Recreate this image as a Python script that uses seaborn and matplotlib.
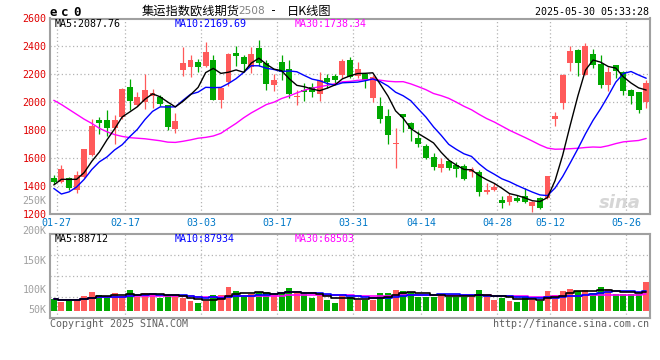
import numpy as np
import pandas as pd
import matplotlib
matplotlib.use("Agg")
import matplotlib.pyplot as plt
import seaborn as sns

# ---------------- data ----------------
opens = [1462, 1433, 1460, 1371, 1465, 1625, 1872, 1872, 1818, 1897,
         2113, 1983, 2000, 2045, 2038, 1978, 1811, 2235, 2253, 2290,
         2262, 2302, 2018, 2149, 2350, 2326, 2252, 2390, 2283, 2121,
         2288, 2240, 2040, 2090, 2109, 2059, 2178, 2190, 2197, 2305,
         2190, 2202, 2035, 1977, 1906, 1700, 1918, 1856, 1744, 1689,
         1607, 1529, 1581, 1553, 1548, 1500, 1505, 1357, 1376, 1302,
         1290, 1319, 1328, 1261, 1314, 1319, 1880, 1994, 2285, 2376,
         2197, 2347, 2276, 2121, 2264, 2216, 2090, 2073, 2001]
highs = [1479, 1553, 1465, 1510, 1670, 1882, 1896, 1944, 1912, 2100,
         2167, 2078, 2203, 2097, 2055, 1985, 1925, 2393, 2336, 2310,
         2429, 2336, 2110, 2352, 2405, 2340, 2398, 2448, 2305, 2202,
         2340, 2305, 2090, 2142, 2137, 2221, 2204, 2204, 2309, 2328,
         2288, 2212, 2197, 2042, 1954, 1820, 1920, 1858, 1799, 1703,
         1641, 1600, 1590, 1577, 1560, 1541, 1517, 1424, 1421, 1331,
         1350, 1338, 1386, 1295, 1326, 1476, 1935, 2200, 2400, 2381,
         2424, 2383, 2336, 2252, 2268, 2226, 2097, 2078, 2161]
lows = [1419, 1425, 1375, 1350, 1460, 1620, 1772, 1760, 1703, 1880,
        1947, 1975, 1955, 1960, 1975, 1803, 1782, 2192, 2185, 2214,
        2255, 2015, 1963, 2114, 2257, 2221, 2209, 2257, 2090, 2083,
        2161, 2035, 1982, 2011, 2042, 2011, 2102, 2137, 2173, 2173,
        2173, 2106, 2001, 1851, 1703, 1534, 1787, 1727, 1684, 1596,
        1517, 1505, 1520, 1469, 1445, 1469, 1333, 1345, 1367, 1247,
        1266, 1285, 1278, 1218, 1238, 1308, 1834, 1954, 2226, 2190,
        2195, 2245, 2102, 2085, 2173, 2054, 1987, 1923, 1963]
closes = [1433, 1523, 1385, 1484, 1667, 1834, 1856, 1820, 1873, 2097,
          2013, 2042, 2088, 2068, 1988, 1827, 1868, 2285, 2305, 2252,
          2357, 2018, 2106, 2347, 2333, 2273, 2347, 2281, 2130, 2159,
          2216, 2059, 2047, 2078, 2078, 2157, 2149, 2161, 2297, 2185,
          2240, 2157, 2180, 1882, 1767, 1712, 1894, 1810, 1701, 1605,
          1541, 1560, 1529, 1524, 1452, 1522, 1362, 1376, 1393, 1278,
          1331, 1297, 1290, 1290, 1247, 1474, 1903, 2197, 2369, 2285,
          2400, 2264, 2121, 2214, 2228, 2083, 2049, 1946, 2137]
volumes_k = [53, 42, 53, 54, 68, 86, 72, 60, 81, 69,
             95, 62, 81, 77, 59, 72, 66, 59, 45, 36,
             45, 72, 72, 108, 90, 68, 77, 86, 86, 72,
             81, 105, 81, 76, 60, 72, 50, 35, 72, 65,
             50, 50, 50, 80, 80, 95, 90, 86, 65, 65,
             65, 72, 65, 65, 65, 65, 95, 72, 50, 60,
             45, 42, 62, 50, 47, 90, 72, 90, 99, 90,
             95, 80, 107, 98, 76, 76, 76, 76, 130]
# moving-average values visible before enough candles exist
ma5_head = [1410, 1450, 1450, 1450]
ma10_head = [1385, 1345, 1360, 1395, 1450, 1520, 1575, 1610, 1660]
ma30_head = [2015, 1985, 1950, 1915, 1880, 1850, 1815, 1790, 1770, 1757,
             1748, 1744, 1740, 1733, 1726, 1716, 1714, 1722, 1732, 1744,
             1750, 1760, 1779, 1815, 1850, 1890, 1925, 1955, 1985]
tick_idx = [0, 9, 19, 29, 39, 48, 58, 65, 75]
tick_labels = ["01-27", "02-17", "03-03", "03-17", "03-31",
               "04-14", "04-28", "05-12", "05-26"]
price_ticks = [1200, 1400, 1600, 1800, 2000, 2200, 2400, 2600]
vol_labels = ["250K", "200K", "150K", "100K", "50K"]

title_main = "集运指数欧线期货"
title_code = "2508"
title_tail = "日K线图"
stamp = "2025-05-30 05:33:28"
ma_texts = ["MA5:2087.76", "MA10:2169.69", "MA30:1738.34"]
vma_texts = ["MA5:88712", "MA10:87934", "MA30:68503"]

# ---------------- styling ----------------
sns.set_style("white")
plt.rcParams["font.family"] = ["DejaVu Sans Mono", "DejaVu Sans"]
RED = "#ff5a5a"
GREEN = "#00a800"
GRID = "#b4b4b4"
SPINE = "#a0a0a0"
MONO = 7.2

W, H = 660, 360
fig = plt.figure(figsize=(6.6, 3.6), dpi=100)
fig.patch.set_facecolor("white")


def fx(x):
    return x / W


def fy(y):
    return 1 - y / H


ax = fig.add_axes([fx(50), fy(214.3), 600 / W, (214.3 - 18.5) / H])
axv = fig.add_axes([fx(50), fy(317.5), 600 / W, (317.5 - 234.3) / H])

df = pd.DataFrame({"o": opens, "h": highs, "l": lows, "c": closes,
                   "v": volumes_k})
df["i"] = np.arange(len(df))
df["dir"] = np.where(df["c"] >= df["o"], "up", "down")
pal = {"up": RED, "down": GREEN}
cols = df["dir"].map(pal).values

ma5 = df["c"].rolling(5).mean().values
ma5[:len(ma5_head)] = ma5_head
ma10 = df["c"].rolling(10).mean().values
ma10[:len(ma10_head)] = ma10_head
ma30 = df["c"].rolling(30).mean().values
ma30[:len(ma30_head)] = ma30_head

XL = (-0.5, len(df) - 0.5)
GOFF = 0.38  # grid lines sit at the right edge of the labelled candle

# ---------------- price panel ----------------
for v in price_ticks[1:-1]:
    ax.axhline(v, color=GRID, lw=0.9, ls=(0, (1, 2)), zorder=0)
for k in tick_idx:
    ax.axvline(k + GOFF, color=GRID, lw=0.9, ls=(0, (1, 2)), zorder=0)

ax.vlines(df["i"], df["l"], df["h"], colors=cols, lw=0.9, zorder=2)
body_lo = np.minimum(df["o"], df["c"])
body_h = np.maximum((df["c"] - df["o"]).abs(), 8)
ax.bar(df["i"], body_h, bottom=body_lo, width=0.78, color=cols,
       linewidth=0, zorder=3)

for vals, c in [(ma30, "#ff00ff"), (ma10, "#0000ff"), (ma5, "#000000")]:
    sns.lineplot(x=df["i"], y=vals, ax=ax, color=c, lw=1.0, zorder=4,
                 legend=False)

ax.set_xlim(*XL)
ax.set_ylim(1200, 2600)
ax.set_yticks(price_ticks)
ax.set_yticklabels([str(t) for t in price_ticks], color="#e00000",
                   fontsize=MONO)
ax.set_xticks([k + GOFF for k in tick_idx])
ax.set_xticklabels(tick_labels, color="#0078c8", fontsize=MONO)
ax.tick_params(axis="both", length=0)
ax.tick_params(axis="y", pad=2.4)
ax.tick_params(axis="x", pad=2.6)
ax.set_xlabel("")
ax.set_ylabel("")
for s in ax.spines.values():
    s.set_color(SPINE)
    s.set_linewidth(1.5)

# watermark
ax.text(0.985, 0.06, "sina", transform=ax.transAxes, ha="right",
        va="center", fontsize=13, color="#d6d6d6", style="italic",
        fontweight="bold", family="DejaVu Sans", zorder=1)

# ---------------- volume panel ----------------
vlo, vhi = -29.3, 345.5
for f in (0.25, 0.5, 0.75):
    axv.axhline(vlo + f * (vhi - vlo), color=GRID, lw=0.9,
                ls=(0, (1, 2)), zorder=0)
for k in tick_idx:
    axv.axvline(k + GOFF, color=GRID, lw=0.9, ls=(0, (1, 2)), zorder=0)

axv.bar(df["i"], df["v"], width=0.78, color=cols, linewidth=0, zorder=2)
vma5 = df["v"].rolling(5, min_periods=1).mean()
vma10 = df["v"].rolling(10, min_periods=1).mean()
vma30 = df["v"].rolling(30, min_periods=1).mean()
for vals, c in [(vma30, "#ff00ff"), (vma10, "#0000ff"), (vma5, "#000000")]:
    sns.lineplot(x=df["i"], y=vals, ax=axv, color=c, lw=1.2, zorder=3,
                 drawstyle="steps-mid", legend=False)
axv.set_xlim(*XL)
axv.set_ylim(vlo, vhi)
axv.set_xticks([])
axv.set_yticks([])
axv.set_xlabel("")
axv.set_ylabel("")
for s in axv.spines.values():
    s.set_color(SPINE)
    s.set_linewidth(1.5)

# ---------------- texts ----------------
cjk = ["Noto Sans CJK SC", "DejaVu Sans"]
fig.text(fx(142), fy(11), title_main, family=cjk, fontsize=8.8,
         va="center", ha="left", color="#000000")
fig.text(fx(238), fy(11.5), title_code, fontsize=7.6, va="center",
         ha="left", color="#808080", family="DejaVu Sans")
fig.text(fx(270), fy(11), "-", fontsize=8.5, va="center", ha="left",
         color="#000000")
fig.text(fx(287), fy(11), title_tail, family=cjk, fontsize=8.8,
         va="center", ha="left", color="#000000")

for ch, x in zip("ec0", (53, 64.5, 76.5)):
    fig.text(fx(x), fy(12), ch, fontsize=9, fontweight="bold",
             ha="center", va="center", color="#000000")
fig.text(fx(649), fy(12), stamp, fontsize=MONO, ha="right", va="center",
         color="#000000")

ma_cols = ["#000000", "#0000ff", "#ff00ff"]
for t, x, c in zip(ma_texts, (55, 174.5, 295), ma_cols):
    fig.text(fx(x), fy(24), t, fontsize=MONO, ha="left", va="center",
             color=c)
for t, x, c in zip(vma_texts, (55, 174.5, 295), ma_cols):
    fig.text(fx(x), fy(238.5), t, fontsize=MONO, ha="left", va="center",
             color=c)

for t, y in zip(vol_labels, (200.5, 231, 261, 290, 310)):
    fig.text(fx(46.7), fy(y), t, fontsize=MONO, ha="right", va="center",
             color="#a0a0a0")

fig.text(fx(50), fy(324), "Copyright 2025 SINA.COM", fontsize=MONO,
         ha="left", va="center", color="#606060")
fig.text(fx(649), fy(324), "http://finance.sina.com.cn", fontsize=MONO,
         ha="right", va="center", color="#606060")

fig.savefig("out.png", dpi=100, facecolor="white")
